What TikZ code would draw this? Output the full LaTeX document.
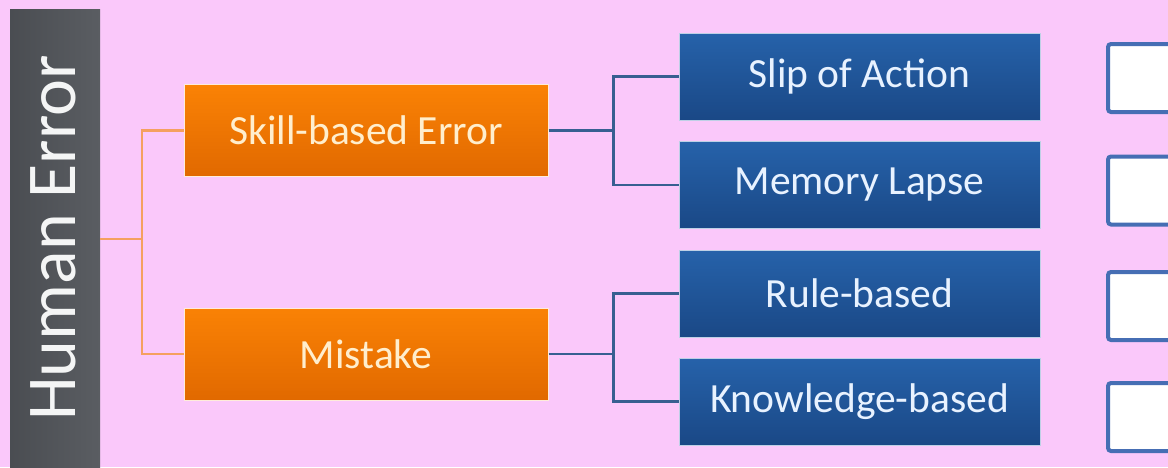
\documentclass[tikz,border=0pt]{standalone}
\usepackage{fontspec}
\setmainfont{Carlito}
\usetikzlibrary{shadings,calc}
\definecolor{bg}{RGB}{250,200,250}
\definecolor{barc}{RGB}{78,81,86}
\definecolor{bartop}{RGB}{90,93,98}
\definecolor{orT}{RGB}{250,130,5}
\definecolor{orB}{RGB}{225,105,0}
\definecolor{blT}{RGB}{38,98,170}
\definecolor{blB}{RGB}{26,72,134}
\definecolor{ocon}{RGB}{245,160,95}
\definecolor{bcon}{RGB}{55,95,145}
\definecolor{otext}{RGB}{255,238,205}
\definecolor{btext}{RGB}{232,242,255}
\definecolor{wbord}{RGB}{70,110,180}
\tikzset{
  orbox/.style={rectangle, minimum width=364pt, minimum height=92pt, top color=orT, bottom color=orB, draw=white!85!orT, line width=1pt, text=otext, font=\fontsize{41.5}{48}\selectfont, inner sep=0pt},
  blbox/.style={rectangle, minimum width=361pt, minimum height=87pt, top color=blT, bottom color=blB, draw=white!70!blT, line width=1pt, text=btext, font=\fontsize{41.5}{48}\selectfont, inner sep=0pt},
  wbox/.style={rectangle, rounded corners=3pt, minimum width=90pt, minimum height=68pt, fill=white, draw=wbord, line width=4pt, anchor=west},
  oline/.style={draw=ocon, line width=2.5pt},
  bline/.style={draw=bcon, line width=2.5pt}
}
\begin{document}
\begin{tikzpicture}[x=1pt,y=-1pt]
\useasboundingbox (0,0) rectangle (1168,467);
\clip (0,0) rectangle (1168,467);
\fill[bg] (0,0) rectangle (1168,467);
% gray bar
\node[rectangle, minimum width=90pt, minimum height=460pt, left color=barc!95!black, right color=bartop, inner sep=0pt] (bar) at (55,239) {};
\node[rotate=90, text=white!94!barc, font=\fontsize{70}{80}\selectfont, inner sep=0pt] (het) at (53,238) {Human Error};
% orange boxes
\node[orbox] (skill) at (366,130.5) {Skill-based Error};
\node[orbox] (mist) at (366,354) {Mistake};
% blue boxes
\node[blbox] (slip) at (859.5,76.5) {Slip of Action};
\node[blbox] (mem) at (859.5,185) {Memory Lapse};
\node[blbox] (rule) at (859.5,293.5) {Rule-based};
\node[blbox] (know) at (859.5,401.5) {Knowledge-based};
% white boxes
\node[wbox] (w1) at (1106,78) {};
\node[wbox] (w2) at (1106,190.5) {};
\node[wbox] (w3) at (1106,306) {};
\node[wbox] (w4) at (1106,417) {};
% connectors
\coordinate (oj) at ($(bar.east)+(42,0)$);
\draw[oline] (bar.east) -- (oj);
\draw[oline] (skill.west) -| (oj) |- (mist.west);
\coordinate (bj1) at ($(skill.east)+(65,0)$);
\coordinate (bj2) at ($(mist.east)+(65,0)$);
\draw[bline] (skill.east) -- (bj1);
\draw[bline] (slip.west) -| (bj1) |- (mem.west);
\draw[bline] (mist.east) -- (bj2);
\draw[bline] (rule.west) -| (bj2) |- (know.west);
\end{tikzpicture}
\end{document}
